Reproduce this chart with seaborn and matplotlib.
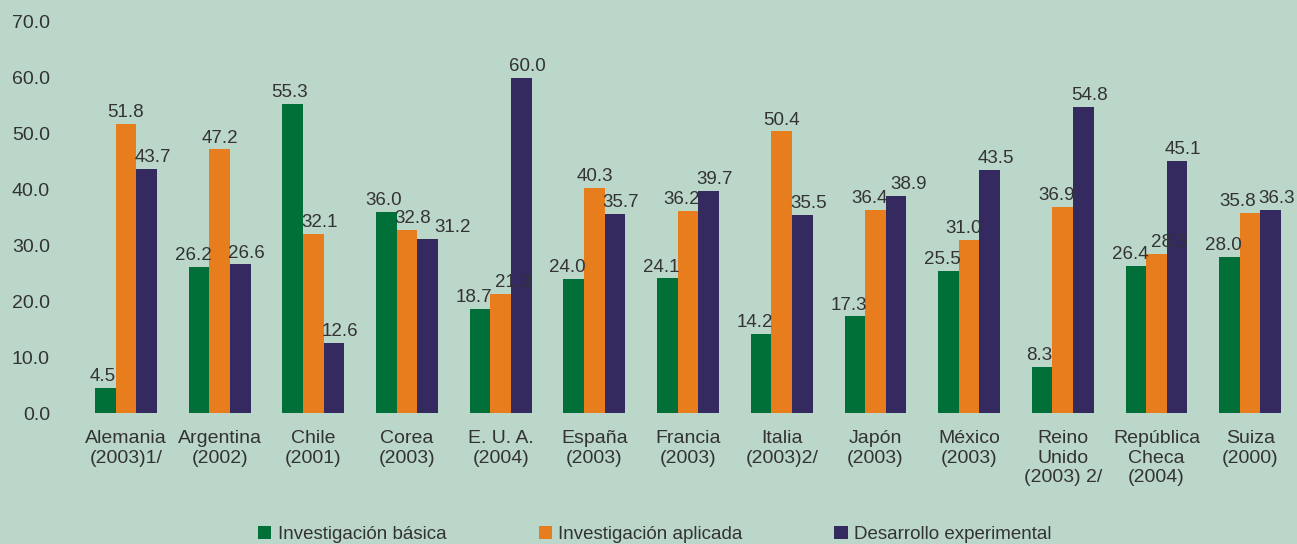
import matplotlib
matplotlib.use("Agg")
import matplotlib.pyplot as plt
import seaborn as sns
import pandas as pd
from matplotlib.patches import Patch

categories = ["Alemania\n(2003)1/", "Argentina\n(2002)", "Chile\n(2001)", "Corea\n(2003)",
              "E. U. A.\n(2004)", "España\n(2003)", "Francia\n(2003)", "Italia\n(2003)2/",
              "Japón\n(2003)", "México\n(2003)", "Reino\nUnido\n(2003) 2/",
              "República\nCheca\n(2004)", "Suiza\n(2000)"]
series_names = ["Investigación básica", "Investigación aplicada", "Desarrollo experimental"]
basica = [4.5, 26.2, 55.3, 36.0, 18.7, 24.0, 24.1, 14.2, 17.3, 25.5, 8.3, 26.4, 28.0]
aplicada = [51.8, 47.2, 32.1, 32.8, 21.3, 40.3, 36.2, 50.4, 36.4, 31.0, 36.9, 28.5, 35.8]
experimental = [43.7, 26.6, 12.6, 31.2, 60.0, 35.7, 39.7, 35.5, 38.9, 43.5, 54.8, 45.1, 36.3]
yticks = [0, 10, 20, 30, 40, 50, 60, 70]

colors = ["#007038", "#E87D1E", "#342A60"]
bg = "#BBD7CA"
txt = "#333333"

rows = []
for name, vals in zip(series_names, [basica, aplicada, experimental]):
    for c, v in zip(categories, vals):
        rows.append({"cat": c, "serie": name, "valor": v})
df = pd.DataFrame(rows)

sns.set_theme(style="white")
plt.rcParams["font.family"] = ["Liberation Sans", "DejaVu Sans"]
fs = 14
vfs = 13.5
DPI = 100

fig = plt.figure(figsize=(12.97, 5.44), dpi=DPI, facecolor=bg)
ax = fig.add_axes([0.061, 0.2408, 0.939, 0.7188])
ax.set_facecolor(bg)

sns.barplot(data=df, x="cat", y="valor", hue="serie", order=categories,
            hue_order=series_names, palette=colors, width=0.66, gap=0,
            saturation=1, ax=ax, legend=False, errorbar=None, linewidth=0,
            edgecolor="none")

ax.set_ylim(0, 70)
ax.set_xlim(-0.5, 12.5)
ax.set_yticks(yticks)
ax.set_yticklabels([f"{t:.1f}" for t in yticks])
ax.set_xticks(range(len(categories)))
ax.set_xticklabels(categories, linespacing=1.22)
ax.tick_params(axis="y", length=0, pad=21, labelsize=fs, labelcolor=txt)
ax.tick_params(axis="x", length=0, pad=12, labelsize=fs, labelcolor=txt)
ax.set_xlabel("")
ax.set_ylabel("")
for s in ax.spines.values():
    s.set_visible(False)
ax.grid(False)

# ---- value labels with simple collision avoidance (pixel space) ----
PT = DPI / 72.0
default_dx = [-3, 0, 6]  # px preference per series
ann = []
for si, cont in enumerate(ax.containers):
    row = []
    for bar in cont:
        h = bar.get_height()
        xc = bar.get_x() + bar.get_width() / 2
        a = ax.annotate(f"{h:.1f}", xy=(xc, h), xytext=(default_dx[si] / PT, 2),
                        textcoords="offset points", ha="center", va="bottom",
                        fontsize=vfs, color=txt)
        row.append(a)
    ann.append(row)

fig.canvas.draw()
r = fig.canvas.get_renderer()
W = fig.bbox.width
TOL_X = 2.0   # allowed horizontal touching (px)
TOL_Y = 4.0   # allowed vertical overlap (px)
GAP = 3.0     # minimal gap between labels (px)


def resolve_labels(cx, wid, ybot, ytop):
    moved = False
    for i in range(3):
        for j in range(i + 1, 3):
            vo = min(ytop[i], ytop[j]) - max(ybot[i], ybot[j])
            if vo <= 0:
                continue
            ov = (cx[i] + wid[i] / 2) - (cx[j] - wid[j] / 2) + GAP
            if ov > 0.01:
                room = (W - 2) - (cx[j] + wid[j] / 2)
                push = min(ov, max(room, 0))
                cx[j] += push
                if ov - push > 0.01:
                    cx[i] -= ov - push
                moved = True
    return moved


for ci in range(len(categories)):
    bars = [ax.containers[si][ci] for si in range(3)]
    bpx = []
    for b in bars:
        (x0, y0), (x1, y1) = ax.transData.transform([(b.get_x(), 0), (b.get_x() + b.get_width(), b.get_height())])
        bpx.append((x0, x1, y1))
    labs = [ann[si][ci] for si in range(3)]
    ext = [a.get_window_extent(r) for a in labs]
    wid = [e.width for e in ext]
    ybot = [e.y0 for e in ext]
    ytop = [e.y1 for e in ext]
    cx = [(bpx[i][0] + bpx[i][1]) / 2 + default_dx[i] for i in range(3)]
    # keep labels off taller neighbouring bars
    for _ in range(10):
        moved = False
        for i in range(3):
            for j in range(3):
                if i == j:
                    continue
                bx0, bx1, btop = bpx[j]
                if btop - (ybot[i] + 3) <= TOL_Y:
                    continue
                lx0, lx1 = cx[i] - wid[i] / 2, cx[i] + wid[i] / 2
                if j > i:
                    ov = lx1 - bx0 - TOL_X
                    if ov > 0:
                        cx[i] -= ov; moved = True
                else:
                    ov = bx1 - lx0 - TOL_X
                    if ov > 0:
                        cx[i] += ov; moved = True
        if not moved:
            break
    for i in range(3):
        over = cx[i] + wid[i] / 2 - (W - 2)
        if over > 0:
            cx[i] -= over
    # labels never overlap each other
    for _ in range(30):
        if not resolve_labels(cx, wid, ybot, ytop):
            break
    for i in range(3):
        dx = cx[i] - (bpx[i][0] + bpx[i][1]) / 2
        labs[i].xyann = (dx / PT, 2)

handles = [Patch(facecolor=c, edgecolor="none") for c in colors]
fig.legend(handles, series_names, loc="center", bbox_to_anchor=(0.505, 0.018),
           ncol=3, frameon=False, fontsize=13.5, labelcolor=txt,
           handlelength=0.7, handleheight=0.7, handletextpad=0.35,
           columnspacing=4.9)

fig.savefig("out.png", dpi=DPI, facecolor=bg)
